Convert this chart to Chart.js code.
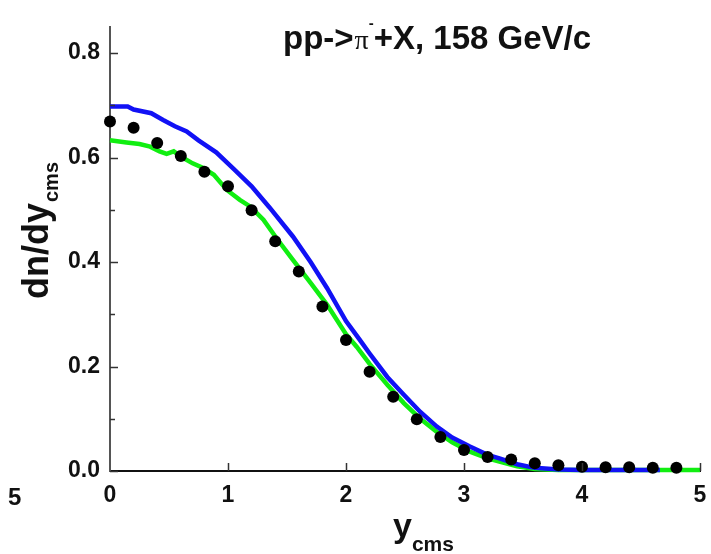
<!DOCTYPE html>
<html>
<head>
<meta charset="utf-8">
<script src="https://cdn.jsdelivr.net/npm/chart.js@4.4.0/dist/chart.umd.min.js"></script>
<style>
  html, body { margin: 0; padding: 0; background: #fff; }
  #wrap { width: 711px; height: 554px; }
</style>
</head>
<body>
<div id="wrap"><canvas id="pionChart"></canvas></div>
<script>
// data points (black dots)
const dotX = [0, 0.2, 0.4, 0.6, 0.8, 1.0, 1.2, 1.4, 1.6, 1.8, 2.0, 2.2, 2.4, 2.6, 2.8, 3.0, 3.2, 3.4, 3.6, 3.8, 4.0, 4.2, 4.4, 4.6, 4.8];
const dotY = [0.669, 0.657, 0.628, 0.603, 0.573, 0.545, 0.499, 0.440, 0.382, 0.315, 0.251, 0.190, 0.142, 0.099, 0.065, 0.040, 0.027, 0.022, 0.015, 0.011, 0.008, 0.007, 0.007, 0.006, 0.006];

// blue curve
const blueX = [0, 0.15, 0.2, 0.35, 0.45, 0.55, 0.65, 0.75, 0.9, 1.05, 1.2, 1.35, 1.55, 1.7, 1.84, 2.0, 2.12, 2.2, 2.35, 2.49, 2.63, 2.77, 2.9, 3.05, 3.2, 3.3, 3.45, 3.6, 3.8, 4.0, 4.66];
const blueY = [0.698, 0.698, 0.692, 0.685, 0.672, 0.660, 0.650, 0.633, 0.610, 0.578, 0.545, 0.505, 0.449, 0.400, 0.350, 0.287, 0.250, 0.225, 0.180, 0.146, 0.113, 0.085, 0.064, 0.047, 0.031, 0.024, 0.013, 0.006, 0.003, 0.002, 0.002];

// green curve
const greenX = [0, 0.14, 0.25, 0.34, 0.42, 0.48, 0.54, 0.6, 0.7, 0.79, 0.88, 0.99, 1.1, 1.19, 1.3, 1.41, 1.55, 1.7, 1.84, 2.0, 2.09, 2.2, 2.35, 2.49, 2.63, 2.77, 2.9, 3.05, 3.2, 3.3, 3.45, 3.6, 3.8, 5.0];
const greenY = [0.633, 0.629, 0.626, 0.621, 0.612, 0.607, 0.612, 0.602, 0.589, 0.580, 0.567, 0.538, 0.519, 0.506, 0.481, 0.446, 0.404, 0.360, 0.318, 0.262, 0.238, 0.205, 0.165, 0.130, 0.100, 0.075, 0.055, 0.037, 0.024, 0.018, 0.009, 0.004, 0.002, 0.002];

const xTicks = [0, 1, 2, 3, 4, 5];
const yTicks = [0, 0.2, 0.4, 0.6, 0.8];
const yMinor = [0.1, 0.3, 0.5, 0.7];

const pts = (xs, ys) => xs.map((x, i) => ({ x: x, y: ys[i] }));

const FONT = '"Liberation Sans", Arial, sans-serif';

// inner tick marks + titles with subscripts
const decor = {
  id: 'decor',
  afterDraw(chart) {
    const { ctx, chartArea } = chart;
    const xs = chart.scales.x, ys = chart.scales.y;
    ctx.save();
    ctx.strokeStyle = '#333';
    ctx.lineWidth = 1.5;
    yTicks.forEach(v => {
      const py = Math.round(ys.getPixelForValue(v)) + 0.5;
      ctx.beginPath(); ctx.moveTo(chartArea.left, py); ctx.lineTo(chartArea.left + 8, py); ctx.stroke();
    });
    yMinor.forEach(v => {
      const py = Math.round(ys.getPixelForValue(v)) + 0.5;
      ctx.beginPath(); ctx.moveTo(chartArea.left, py); ctx.lineTo(chartArea.left + 5, py); ctx.stroke();
    });
    xTicks.slice(1).forEach(v => {
      const px = Math.round(xs.getPixelForValue(v)) + 0.5;
      ctx.beginPath(); ctx.moveTo(px, chartArea.bottom); ctx.lineTo(px, chartArea.bottom - 8); ctx.stroke();
    });

    ctx.fillStyle = '#111';
    ctx.textBaseline = 'alphabetic';
    ctx.textAlign = 'left';

    // title
    let tx = chartArea.left + 173, ty = 49;
    ctx.font = 'bold 33px ' + FONT;
    ctx.fillText('pp->', tx, ty); tx += ctx.measureText('pp->').width + 1;
    ctx.font = '28px "Liberation Serif", serif';
    ctx.fillText('\u03c0', tx, ty); tx += ctx.measureText('\u03c0').width;
    ctx.font = 'bold 15px ' + FONT;
    ctx.fillText('-', tx, ty - 21); tx += ctx.measureText('-').width;
    ctx.font = 'bold 33px ' + FONT;
    ctx.fillText('+X, 158 GeV/c', tx, ty);

    // y axis title
    ctx.save();
    ctx.translate(48, 299);
    ctx.rotate(-Math.PI / 2);
    ctx.font = 'bold 36px ' + FONT;
    ctx.fillText('dn/dy', 0, 0);
    const w = ctx.measureText('dn/dy').width;
    ctx.font = 'bold 20px ' + FONT;
    ctx.fillText('cms', w + 1, 10);
    ctx.restore();

    // x axis title
    ctx.font = 'bold 34px ' + FONT;
    ctx.fillText('y', 393, 537);
    const yw = ctx.measureText('y').width;
    ctx.font = 'bold 21px ' + FONT;
    ctx.fillText('cms', 393 + yw, 551);

    // leftover tick label from the neighbouring panel
    ctx.font = 'bold 24px ' + FONT;
    ctx.fillText('5', 8, 505);
    ctx.restore();
  }
};

new Chart(document.getElementById('pionChart'), {
  type: 'scatter',
  data: {
    datasets: [
      {
        label: 'green',
        data: pts(greenX, greenY),
        showLine: true,
        borderColor: '#11ee11',
        borderWidth: 4.5,
        pointRadius: 0,
        tension: 0,
        order: 3,
      },
      {
        label: 'blue',
        data: pts(blueX, blueY),
        showLine: true,
        borderColor: '#1111f5',
        borderWidth: 4.5,
        pointRadius: 0,
        tension: 0,
        order: 2,
      },
      {
        label: 'data',
        data: pts(dotX, dotY),
        backgroundColor: '#000',
        borderColor: '#000',
        pointRadius: 6,
        pointBorderWidth: 0,
        order: 1,
      },
    ],
  },
  options: {
    responsive: true,
    maintainAspectRatio: false,
    animation: false,
    layout: { padding: { top: 27, right: 11, left: 0, bottom: 0 } },
    clip: false,
    plugins: { legend: { display: false }, tooltip: { enabled: false } },
    scales: {
      x: {
        type: 'linear',
        min: 0,
        max: 5,
        afterBuildTicks: s => { s.ticks = xTicks.map(v => ({ value: v })); },
        afterFit: s => { s.height = 83; },
        grid: { display: false },
        border: { display: true, color: '#111', width: 2 },
        ticks: { color: '#111', padding: 3, font: { family: FONT, size: 23, weight: 'bold' } },
      },
      y: {
        type: 'linear',
        min: 0,
        max: 0.85,
        afterBuildTicks: s => { s.ticks = yTicks.map(v => ({ value: v })); },
        afterFit: s => { s.width = 110; },
        grid: { display: false },
        border: { display: true, color: '#555', width: 2 },
        ticks: {
          color: '#111',
          padding: 2,
          callback: v => v.toFixed(1),
          font: { family: FONT, size: 23, weight: 'bold' },
        },
      },
    },
  },
  plugins: [decor],
});
</script>
</body>
</html>
